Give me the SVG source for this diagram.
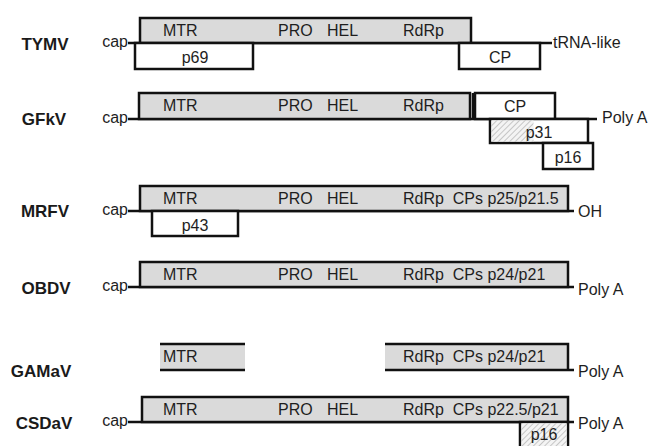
<svg xmlns="http://www.w3.org/2000/svg" width="653" height="446" viewBox="0 0 653 446">
<defs>
<pattern id="hatch" patternUnits="userSpaceOnUse" width="4" height="4" patternTransform="rotate(45)">
<rect width="4" height="4" fill="#f4f4f4"/>
<line x1="0" y1="0" x2="0" y2="4" stroke="#a8a8a8" stroke-width="1.2"/>
</pattern>
<style>
.lbl{font-family:"Liberation Sans",Arial,sans-serif;font-weight:bold;font-size:17px;fill:#1a1a1a;text-anchor:middle}
.t{font-family:"Liberation Sans",Arial,sans-serif;font-size:16px;fill:#1e1e1e;white-space:pre}
.c{text-anchor:middle}
.e{text-anchor:end}
.orf{fill:#dadada;stroke:#111;stroke-width:2.5}
.sub{fill:#fff;stroke:#111;stroke-width:2.5}
.hat{fill:url(#hatch);stroke:none}
.ln{stroke:#111;stroke-width:2.5;fill:none}
</style>
</defs>
<rect width="653" height="446" fill="#fff"/>

<g id="backbones">
<line class="ln" x1="128" y1="43" x2="552" y2="43"/>
<line class="ln" x1="128" y1="119" x2="597" y2="119"/>
<line class="ln" x1="128" y1="211" x2="574" y2="211"/>
<line class="ln" x1="128" y1="287" x2="574" y2="287"/>
<line class="ln" x1="128" y1="422" x2="574" y2="422"/>
</g>

<g id="TYMV">
<text class="lbl" x="45" y="50">TYMV</text>
<text class="t e" x="128" y="47">cap</text>
<rect class="orf" x="140" y="18" width="331" height="25"/>
<text class="t" x="163" y="36">MTR</text>
<text class="t" x="278" y="36">PRO</text>
<text class="t" x="327" y="36">HEL</text>
<text class="t" x="403" y="36">RdRp</text>
<rect class="sub" x="135" y="43" width="118" height="26"/>
<text class="t c" x="195" y="63">p69</text>
<rect class="sub" x="459" y="43" width="81" height="26"/>
<text class="t c" x="500" y="63">CP</text>
<text class="t" x="553" y="48">tRNA-like</text>
</g>

<g id="GFkV">
<text class="lbl" x="44" y="125">GFkV</text>
<text class="t e" x="128" y="123">cap</text>
<rect class="orf" x="139" y="93" width="331" height="26"/>
<line class="ln" x1="473" y1="93" x2="473" y2="119"/>
<text class="t" x="163" y="111">MTR</text>
<text class="t" x="278" y="111">PRO</text>
<text class="t" x="327" y="111">HEL</text>
<text class="t" x="403" y="111">RdRp</text>
<rect class="sub" x="475" y="93" width="80" height="26"/>
<text class="t c" x="515" y="112">CP</text>
<rect class="sub" x="490" y="119" width="98" height="24"/>
<rect class="hat" x="491.5" y="120.5" width="42" height="21"/>
<text class="t c" x="539" y="138">p31</text>
<rect class="sub" x="543" y="143" width="50" height="26"/>
<text class="t c" x="568" y="163">p16</text>
<text class="t" x="602" y="123">Poly A</text>
</g>

<g id="MRFV">
<text class="lbl" x="45" y="217">MRFV</text>
<text class="t e" x="128" y="215">cap</text>
<rect class="orf" x="140" y="186" width="428" height="25"/>
<text class="t" x="163" y="204">MTR</text>
<text class="t" x="278" y="204">PRO</text>
<text class="t" x="327" y="204">HEL</text>
<text class="t" x="403" y="204" xml:space="preserve">RdRp  CPs p25/p21.5</text>
<rect class="sub" x="152" y="211" width="86" height="25"/>
<text class="t c" x="195" y="231">p43</text>
<text class="t" x="578" y="217">OH</text>
</g>

<g id="OBDV">
<text class="lbl" x="46" y="294">OBDV</text>
<text class="t e" x="128" y="291">cap</text>
<rect class="orf" x="140" y="262" width="428" height="25"/>
<text class="t" x="163" y="280">MTR</text>
<text class="t" x="278" y="280">PRO</text>
<text class="t" x="327" y="280">HEL</text>
<text class="t" x="403" y="280" xml:space="preserve">RdRp  CPs p24/p21</text>
<text class="t" x="578" y="295">Poly A</text>
</g>

<g id="GAMaV">
<text class="lbl" x="41" y="377">GAMaV</text>
<rect x="160" y="344" width="85" height="26" fill="#dadada"/>
<line class="ln" x1="160" y1="344" x2="245" y2="344"/>
<line class="ln" x1="160" y1="370" x2="245" y2="370"/>
<text class="t" x="163" y="362">MTR</text>
<rect x="385" y="344" width="183" height="26" fill="#dadada"/>
<polyline class="ln" points="385,344 568,344 568,370"/>
<line class="ln" x1="385" y1="370" x2="574" y2="370"/>
<text class="t" x="403" y="362" xml:space="preserve">RdRp  CPs p24/p21</text>
<text class="t" x="578" y="377">Poly A</text>
</g>

<g id="CSDaV">
<text class="lbl" x="44" y="429">CSDaV</text>
<text class="t e" x="128" y="426">cap</text>
<rect class="orf" x="142" y="397" width="426" height="25"/>
<text class="t" x="163" y="415">MTR</text>
<text class="t" x="278" y="415">PRO</text>
<text class="t" x="327" y="415">HEL</text>
<text class="t" x="403" y="415" xml:space="preserve">RdRp  CPs p22.5/p21</text>
<rect class="sub" x="520" y="422" width="48" height="30"/>
<rect class="hat" x="521.5" y="423.5" width="45" height="27"/>
<text class="t c" x="544" y="440">p16</text>
<text class="t" x="578" y="429">Poly A</text>
</g>
</svg>
